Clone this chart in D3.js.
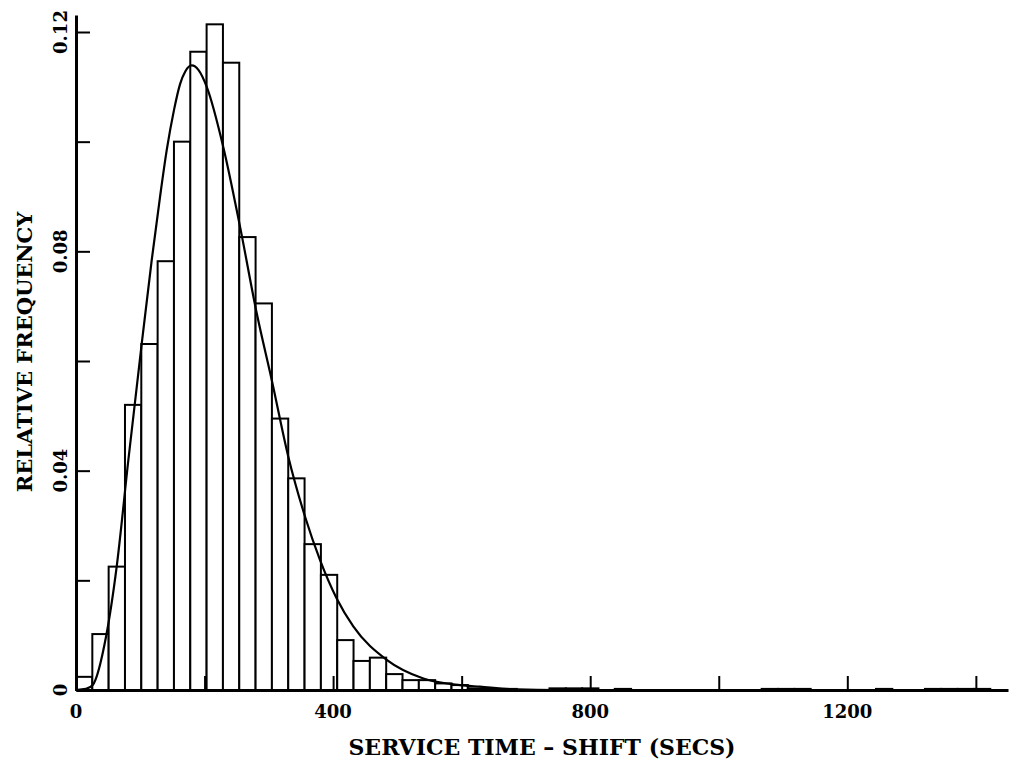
<!DOCTYPE html>
<html lang="en">
<head>
<meta charset="utf-8">
<title>Service time histogram</title>
<script src="https://cdn.jsdelivr.net/npm/d3@7/dist/d3.min.js"></script>
<style>
  body { margin: 0; background: #fff; }
  text { font-family: "DejaVu Serif", serif; font-weight: bold; fill: #000; }
</style>
</head>
<body>
<script>
// histogram: relative frequency per bin (bin width ~25.4 secs, starting at 0)
var binWidth = 25.4;
var freq = [0.0024, 0.0102, 0.0225, 0.0520, 0.0631, 0.0782, 0.1000, 0.1164,
            0.1214, 0.1144, 0.0826, 0.0705, 0.0495, 0.0386, 0.0266, 0.0210,
            0.0091, 0.0053, 0.0059, 0.0029, 0.0018, 0.0018, 0.0012, 0.0009,
            0.0003, 0.0002, 0.0002, 0, 0, 0.0003, 0.0003, 0.0003,
            0, 0.0002, 0, 0, 0, 0, 0, 0,
            0, 0, 0.0002, 0.0002, 0.0002, 0, 0, 0,
            0, 0.0002, 0, 0, 0.0002, 0.0002, 0.0002, 0.0002];

// fitted density curve
var curveX = [0, 15.6, 26, 46.7, 63.3, 81.4, 102.3, 117.8, 130.7, 141.2, 152.5, 161.9, 170,
              180, 191, 203.4, 229.2, 255.2, 281.2, 304.6, 330.4, 356.4, 379.7, 405.6,
              431.4, 483.4, 540.4, 597.5, 628.6, 685.7, 750, 1450];
var curveY = [0, 0.0002, 0.0009, 0.0097, 0.0225, 0.0419, 0.0632, 0.0784, 0.0899, 0.0985, 0.1058, 0.1105, 0.1128,
              0.1139, 0.1130, 0.1100, 0.0990, 0.0845, 0.0687, 0.0565, 0.0425, 0.0316, 0.0237, 0.0167,
              0.0116, 0.0055, 0.0021, 0.0009, 0.0006, 0.0001, 0, 0];

// ticks and labels
var xTicks = [0, 200, 400, 600, 800, 1000, 1200, 1400];
var xLabels = [0, 400, 800, 1200];
var yTicks = [0, 0.02, 0.04, 0.06, 0.08, 0.10, 0.12];
var yLabels = [0, 0.04, 0.08, 0.12];
var xTitle = "SERVICE TIME \u2013 SHIFT (SECS)";
var yTitle = "RELATIVE FREQUENCY";

var w = 1009, h = 759;

var x = d3.scaleLinear().domain([0, 1450]).range([76, 1008]);
var y = d3.scaleLinear().domain([0, 0.1231]).range([690, 15]);

var svg = d3.select("body").append("svg")
            .attr("width", w)
            .attr("height", h);

// bars
var bins = freq.map(function(f, i) { return { i: i, f: f }; })
               .filter(function(d) { return d.f > 0; });

svg.append("g").selectAll("rect")
   .data(bins)
   .enter()
   .append("rect")
   .attr("x", function(d) { return x(d.i * binWidth); })
   .attr("width", function(d) { return x((d.i + 1) * binWidth) - x(d.i * binWidth); })
   .attr("y", function(d) { return y(d.f); })
   .attr("height", function(d) { return y(0) - y(d.f); })
   .attr("fill", "#fff")
   .attr("stroke", "#000")
   .attr("stroke-width", 2);

// density curve
var line = d3.line()
             .x(function(d, i) { return x(curveX[i]); })
             .y(function(d) { return y(d); })
             .curve(d3.curveMonotoneX);

svg.append("path")
   .attr("d", line(curveY))
   .attr("fill", "none")
   .attr("stroke", "#000")
   .attr("stroke-width", 2.2);

// axes, ticks pointing inwards
var xAxis = d3.axisBottom(x).tickValues(xTicks).tickSizeInner(-14).tickSizeOuter(0).tickFormat("");
var yAxis = d3.axisLeft(y).tickValues(yTicks).tickSizeInner(-14).tickSizeOuter(0).tickFormat("");

var gx = svg.append("g").attr("transform", "translate(0,690)").call(xAxis);
var gy = svg.append("g").attr("transform", "translate(76,0)").call(yAxis);

[gx, gy].forEach(function(g) {
  g.select(".domain").attr("stroke", "#000").attr("stroke-width", 3);
  g.selectAll(".tick line").attr("stroke", "#000").attr("stroke-width", 2);
});

// tick labels
svg.append("g").selectAll("text")
   .data(xLabels)
   .enter()
   .append("text")
   .attr("x", function(d) { return x(d); })
   .attr("y", 718)
   .attr("text-anchor", "middle")
   .style("font-size", "18px")
   .text(function(d) { return d; });

svg.append("g").selectAll("text")
   .data(yLabels)
   .enter()
   .append("text")
   .attr("transform", function(d) { return "translate(67," + y(d) + ") rotate(-90)"; })
   .attr("text-anchor", "middle")
   .style("font-size", "18px")
   .text(function(d) { return d === 0 ? "0" : d3.format(".2f")(d); });

// axis titles
svg.append("text")
   .attr("x", 542)
   .attr("y", 755)
   .attr("text-anchor", "middle")
   .style("font-size", "22px")
   .text(xTitle);

svg.append("text")
   .attr("transform", "translate(32,352) rotate(-90)")
   .attr("text-anchor", "middle")
   .style("font-size", "21px")
   .text(yTitle);
</script>
</body>
</html>
